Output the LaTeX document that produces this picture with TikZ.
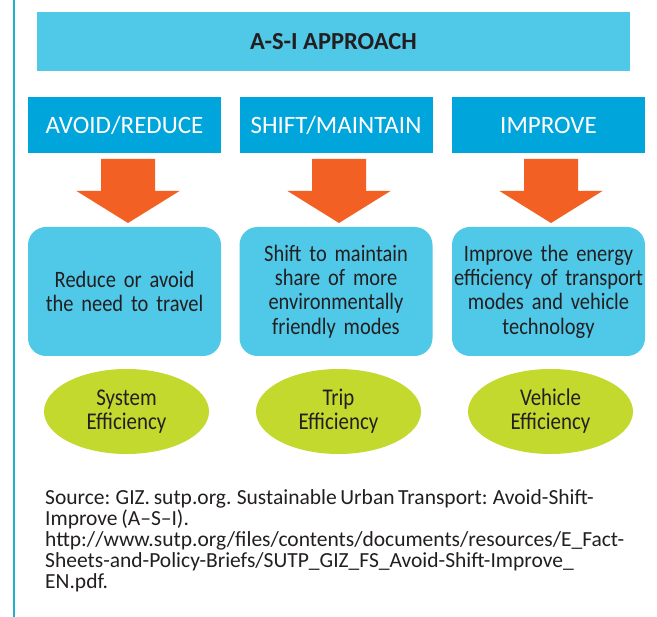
\documentclass[tikz,border=0pt]{standalone}
\usepackage{fontspec}
\setmainfont{Carlito}
\newfontfamily\condensed[FakeStretch=0.87]{Carlito}
\newcommand\tightspaces{\spaceskip=0.17em plus 0.05em minus 0.03em\relax}
\definecolor{lightblue}{HTML}{50C8E8}
\definecolor{darkblue}{HTML}{00A5DB}
\definecolor{arroworange}{HTML}{F26024}
\definecolor{limegreen}{HTML}{C4D92E}
\definecolor{textdark}{HTML}{231F20}
\definecolor{rulecolor}{HTML}{1FB0CF}
\usetikzlibrary{shapes.geometric}
\begin{document}
\begin{tikzpicture}[x=1pt,y=-1pt,
  banner/.style={fill=lightblue, minimum width=593pt, minimum height=59pt, inner sep=0pt,
    text=textdark, font=\fontsize{24.5}{28}\selectfont\bfseries},
  header/.style={fill=darkblue, minimum width=193pt, minimum height=56pt, inner sep=0pt,
    text=white, font=\fontsize{25}{29}\selectfont},
  descbox/.style={fill=lightblue, rounded corners=18pt, minimum width=193pt, minimum height=129pt,
    inner sep=0pt, text width=190pt, align=center, text=textdark, font=\condensed\fontsize{23.5}{24.3}\selectfont\tightspaces},
  effic/.style={ellipse, fill=limegreen, minimum width=165pt, minimum height=85pt, inner sep=0pt,
    align=center, text=textdark, font=\condensed\fontsize{24}{24}\selectfont},
  blockarrow/.pic={\fill[arroworange] (-27,0) -- (27,0) -- (27,32) -- (51.5,32) -- (0,64) -- (-51.5,32) -- (-27,32) -- cycle;}
]
\useasboundingbox (0,0) rectangle (657,617);
\fill[white] (0,0) rectangle (657,617);
\coordinate (ruletop) at (13.8,0);
\coordinate (rulebot) at (13.8,617);
\draw[rulecolor, line width=1.8pt] (ruletop) -- (rulebot);

\node[banner] (asi) at (333.5,41.5) {A-S-I APPROACH};

\node[header] (avoid) at (124.5,125) {AVOID/REDUCE};
\node[header] (shift) at (336,125) {SHIFT/MAINTAIN};
\node[header] (improve) at (548.5,125) {IMPROVE};

\pic at (128,159) {blockarrow};
\pic at (339,159) {blockarrow};
\pic at (551,159) {blockarrow};

\node[descbox] (d1) at (124.5,291.5) {Reduce or avoid\\the need to travel};
\node[descbox] (d2) at (336,291.5) {Shift to maintain\\share of more\\environmentally\\friendly modes};
\node[descbox] (d3) at (548.5,291.5) {Improve the energy\\efficiency of transport\\modes and vehicle\\technology};

\node[effic] (e1) at (126.5,411.5) {System\\Efficiency};
\node[effic] (e2) at (338.5,411.5) {Trip\\Efficiency};
\node[effic] (e3) at (550.5,411.5) {Vehicle\\Efficiency};

\node[anchor=north west, inner sep=0pt, align=left, text=textdark, font=\fontsize{21.5}{21}\selectfont\tightspaces] (src) at (45,489)
 {Source: GIZ. sutp.org. Sustainable Urban Transport: Avoid-Shift-\\
  Improve (A–S–I).\\
  http://www.sutp.org/files/contents/documents/resources/E\_Fact-\\
  Sheets-and-Policy-Briefs/SUTP\_GIZ\_FS\_Avoid-Shift-Improve\_\\
  EN.pdf.};
\end{tikzpicture}
\end{document}
